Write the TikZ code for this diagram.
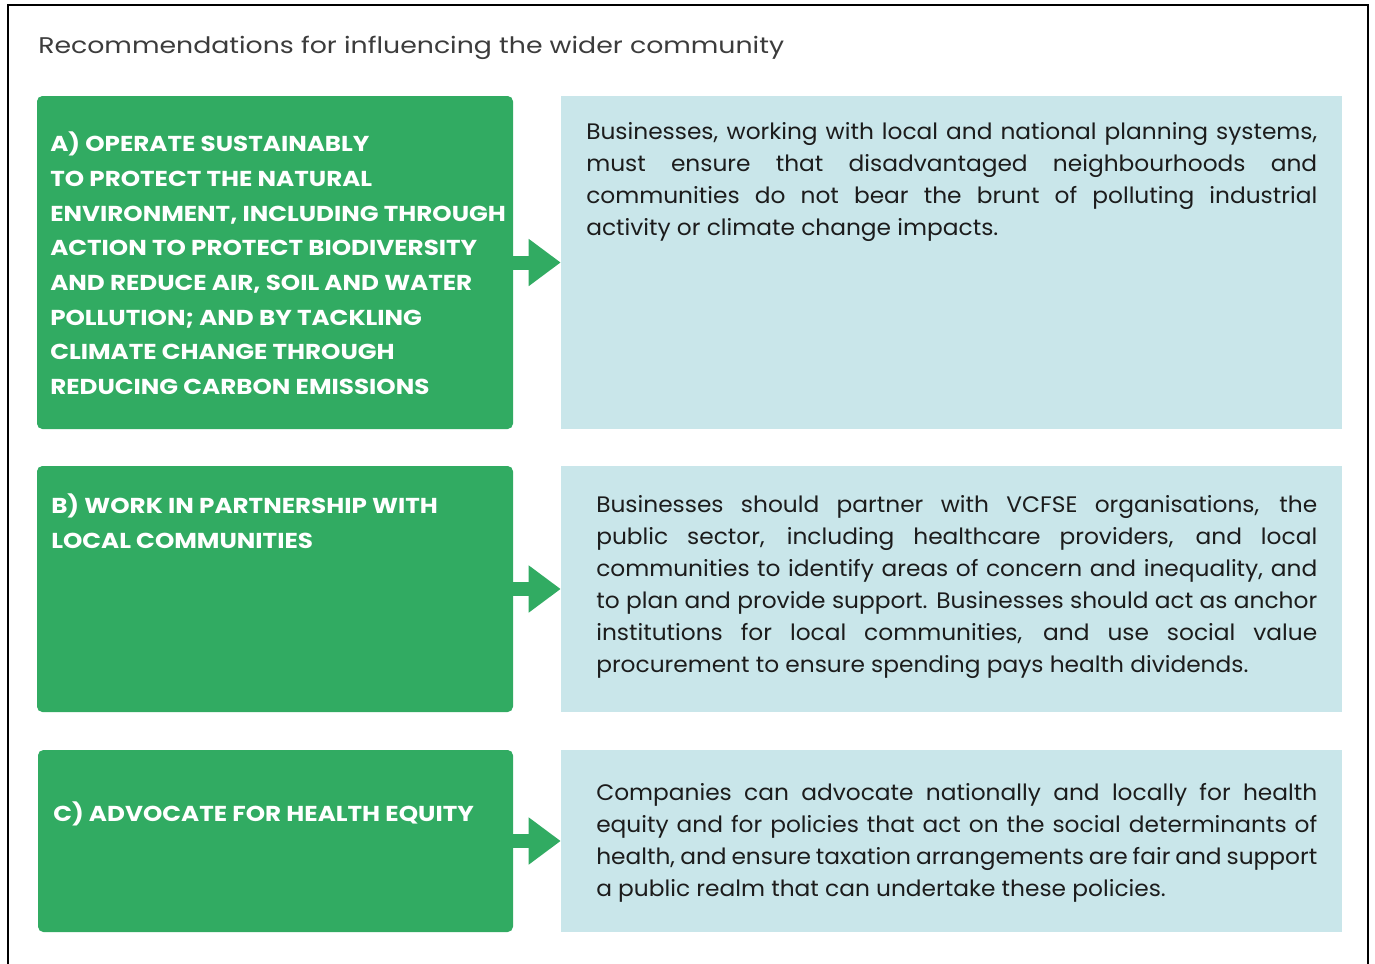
\documentclass[tikz,border=0pt]{standalone}
\usepackage{fontspec}
\setmainfont{Poppins}
\newfontfamily\titlefont{Poppins}[FakeStretch=1.18]
\newfontfamily\headfont{Poppins}[FakeStretch=1.14]
\newfontfamily\bodyfont{Poppins}[FakeStretch=1.04]
\usetikzlibrary{arrows.meta,fit,positioning}

\definecolor{recgreen}{RGB}{49,171,98}
\definecolor{recblue}{RGB}{201,230,234}
\definecolor{titlegrey}{RGB}{60,60,60}
\definecolor{bodyblack}{RGB}{28,28,28}

\tolerance=9999
\hyphenpenalty=10000

\tikzset{
  greenbox/.style={fill=recgreen, rounded corners=4pt, inner sep=0pt},
  bluebox/.style={fill=recblue, inner sep=0pt},
  headtext/.style={text=white, anchor=north west, inner sep=0pt, align=left,
    font=\headfont\bfseries\fontsize{16.2}{26}\selectfont},
  bodytext/.style={text=bodyblack, anchor=north west, inner sep=0pt, align=justify,
    font=\bodyfont\fontsize{16.8}{24}\selectfont},
  linkarrow/.style={draw=recgreen, line width=10.5pt,
    -{Triangle[length=24pt,width=33.75pt]}}
}

\begin{document}
\begin{tikzpicture}[x=0.75pt,y=-0.75pt]
  \useasboundingbox (0,0) rectangle (1375,964);

  % frame, open at the bottom
  \draw[line width=1.5pt] (8,964) -- (8,5) -- (1368,5) -- (1368,964);

  \node[anchor=west, inner sep=0pt, text=titlegrey,
    font=\titlefont\fontsize{17}{20}\selectfont] (title) at (38,48)
    {Recommendations for influencing the wider community};

  % row A
  \node[greenbox, fit={(37,96) (513,429)}] (recA) {};
  \node[bluebox, fit={(561,96) (1342,429)}] (infoA) {};
  \node[headtext] (recAtext) at (50,132)
    {A) OPERATE SUSTAINABLY\\
     TO PROTECT THE NATURAL\\
     ENVIRONMENT, INCLUDING THROUGH\\
     ACTION TO PROTECT BIODIVERSITY\\
     AND REDUCE AIR, SOIL AND WATER\\
     POLLUTION; AND BY TACKLING\\
     CLIMATE CHANGE THROUGH\\
     REDUCING CARBON EMISSIONS};
  \node[bodytext, text width=548.25pt] (infoAtext) at (586,122)
    {Businesses, working with local and national planning systems,\linebreak
     must ensure that disadvantaged neighbourhoods and\linebreak
     communities do not bear the brunt of polluting industrial\linebreak
     activity or climate change impacts.};
  \draw[linkarrow] (recA) -- (infoA);

  % row B
  \node[greenbox, fit={(37,466) (513,712)}] (recB) {};
  \node[bluebox, fit={(561,466) (1342,712)}] (infoB) {};
  \node[headtext] (recBtext) at (51,494)
    {B) WORK IN PARTNERSHIP WITH\\
     LOCAL COMMUNITIES};
  \node[bodytext, text width=540.75pt] (infoBtext) at (596,495)
    {Businesses should partner with VCFSE organisations, the\linebreak
     public sector, including healthcare providers, and local\linebreak
     communities to identify areas of concern and inequality, and\linebreak
     to plan and provide support. Businesses should act as anchor\linebreak
     institutions for local communities, and use social value\linebreak
     procurement to ensure spending pays health dividends.};
  \draw[linkarrow] (recB) -- (infoB);

  % row C
  \node[greenbox, fit={(38,750) (513,932)}] (recC) {};
  \node[bluebox, fit={(561,750) (1342,932)}] (infoC) {};
  \node[headtext] (recCtext) at (53,802)
    {C) ADVOCATE FOR HEALTH EQUITY};
  \node[bodytext, text width=540.75pt] (infoCtext) at (596,783)
    {Companies can advocate nationally and locally for health\linebreak
     equity and for policies that act on the social determinants of\linebreak
     health, and ensure taxation arrangements are fair and support\linebreak
     a public realm that can undertake these policies.};
  \draw[linkarrow] (recC) -- (infoC);
\end{tikzpicture}
\end{document}
